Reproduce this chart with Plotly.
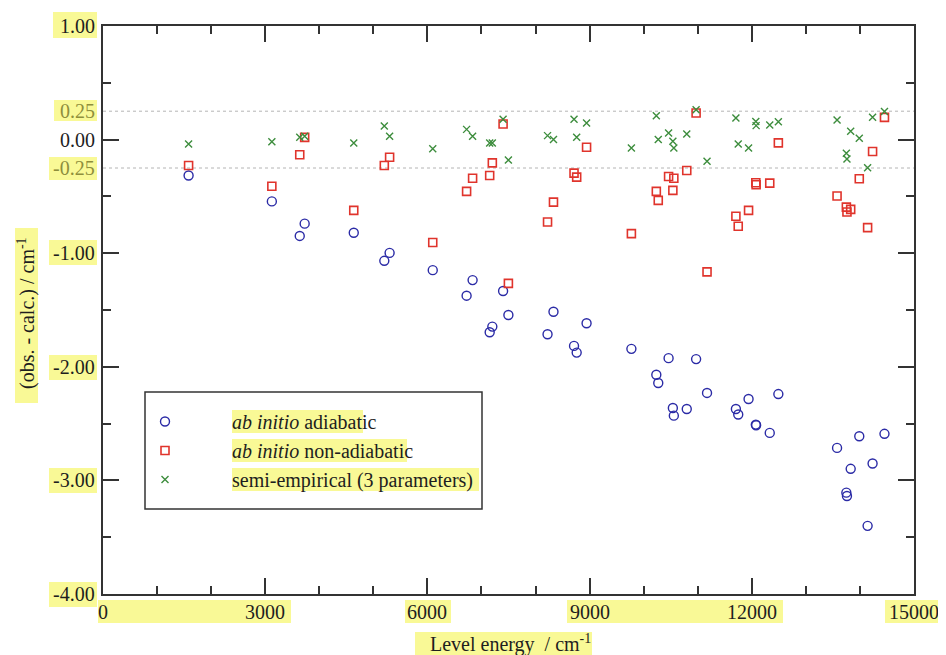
import plotly.graph_objects as go

# ---------------- data ----------------
level_energy = [1583, 3123, 3639, 3730, 4638, 5203, 5301, 6099, 6725, 6836,
                7152, 7201, 7400, 7498, 8222, 8332, 8712, 8761, 8944, 9773,
                10234, 10270, 10461, 10540, 10558, 10797, 10970, 11172, 11706, 11749,
                11940, 12074, 12080, 12332, 12491, 13577, 13749, 13760, 13829, 13988,
                14142, 14234, 14454]

ab_initio_adiabatic = [-0.316, -0.544, -0.848, -0.740, -0.820, -1.067, -0.997, -1.149, -1.374, -1.237,
                       -1.696, -1.646, -1.333, -1.544, -1.713, -1.515, -1.816, -1.875, -1.617, -1.842,
                       -2.070, -2.143, -1.924, -2.363, -2.430, -2.371, -1.932, -2.230, -2.371, -2.420,
                       -2.283, -2.509, -2.515, -2.582, -2.240, -2.714, -3.108, -3.137, -2.898, -2.611,
                       -3.400, -2.851, -2.590]

ab_initio_non_adiabatic = [-0.228, -0.410, -0.134, 0.020, -0.623, -0.228, -0.155, -0.906, -0.456, -0.340,
                           -0.316, -0.205, 0.137, -1.266, -0.725, -0.550, -0.295, -0.330, -0.067, -0.828,
                           -0.456, -0.535, -0.325, -0.447, -0.340, -0.272, 0.234, -1.164, -0.675, -0.763,
                           -0.623, -0.380, -0.397, -0.383, -0.029, -0.497, -0.594, -0.637, -0.614, -0.345,
                           -0.775, -0.105, 0.196]

semi_empirical = [-0.038, -0.018, 0.020, 0.030, -0.030, 0.120, 0.030, -0.080, 0.090, 0.030,
                  -0.030, -0.030, 0.180, -0.180, 0.035, 0.000, 0.180, 0.020, 0.146, -0.073,
                  0.210, 0.000, 0.058, -0.015, -0.073, 0.050, 0.263, -0.190, 0.190, -0.038,
                  -0.073, 0.160, 0.123, 0.129, 0.158, 0.173, -0.120, -0.170, 0.073, 0.011,
                  -0.248, 0.196, 0.248]

series_names = ["<i>ab initio</i> adiabatic",
                "<i>ab initio</i> non-adiabatic",
                "semi-empirical (3 parameters)"]

x_tick_values = [0, 3000, 6000, 9000, 12000, 15000]
x_tick_labels = ["0", "3000", "6000", "9000", "12000", "15000"]
y_tick_values = [1.0, 0.25, 0.0, -0.25, -1.0, -2.0, -3.0, -4.0]
y_tick_labels = ["1.00", "0.25", "0.00", "-0.25", "-1.00", "-2.00", "-3.00", "-4.00"]
dotted_levels = [0.25, -0.25]

# ---------------- styling ----------------
FONT = "Liberation Serif, Times New Roman, serif"
TXT = "#1e1e1e"
OLIVE = "#8e8e3c"
HL = "#f9f996"
FRAME = "#333333"

OFF = 8                      # page body margin in the browser
W, H = 946, 655              # reference window size
L, R, T, B = 103, 914, 26, 594   # plot frame in reference pixels


def px(x):
    return (x - L) / (R - L)


def py(y):
    return (B - y) / (B - T)


fig = go.Figure()

fig.add_trace(go.Scatter(
    x=level_energy, y=ab_initio_adiabatic, mode="markers", name=series_names[0],
    marker=dict(symbol="circle-open", size=9, color="#2b2ba6", line=dict(width=1.4, color="#2b2ba6"))))
fig.add_trace(go.Scatter(
    x=level_energy, y=ab_initio_non_adiabatic, mode="markers", name=series_names[1],
    marker=dict(symbol="square-open", size=8, color="#e0342c", line=dict(width=1.6, color="#e0342c"))))
fig.add_trace(go.Scatter(
    x=level_energy, y=semi_empirical, mode="markers", name=series_names[2],
    marker=dict(symbol="x-thin-open", size=7, color="#3d8d3d", line=dict(width=1.4, color="#3d8d3d"))))

ROW1, ROWSTEP = 421, 29

shapes = []
hl_boxes = [
    (53, 12, 97, 38), (54, 100, 97, 121), (49, 157, 97, 180), (49, 240, 97, 265),
    (49, 355, 97, 380), (49, 468, 97, 493), (49, 582, 97, 607),
    (98, 600, 291, 623), (405, 600, 451, 623), (567, 600, 783, 623), (885, 600, 940, 623),
    (415, 632, 592, 655), (15, 228, 38, 403),
    (232, ROW1 - 11, 363, ROW1 + 12),
    (232, ROW1 + ROWSTEP - 11, 407, ROW1 + ROWSTEP + 12),
    (232, ROW1 + 2 * ROWSTEP - 11, 479, ROW1 + 2 * ROWSTEP + 12),
]
for x0, y0, x1, y1 in hl_boxes:
    shapes.append(dict(type="rect", xref="paper", yref="paper",
                       x0=px(x0), x1=px(x1), y0=py(y1), y1=py(y0),
                       fillcolor=HL, line=dict(width=0), layer="below"))
for lv in dotted_levels:
    shapes.append(dict(type="line", xref="x", yref="y", x0=0, x1=15000, y0=lv, y1=lv,
                       line=dict(color="#b4b4b4", width=1, dash="dot"), layer="below"))
shapes.append(dict(type="rect", xref="paper", yref="paper",
                   x0=px(145), x1=px(482), y0=py(509), y1=py(392),
                   fillcolor="rgba(0,0,0,0)", line=dict(color=FRAME, width=1.5), layer="above"))

annotations = []
for v, t in zip(y_tick_values, y_tick_labels):
    col = OLIVE if abs(v) == 0.25 else TXT
    annotations.append(dict(xref="paper", yref="y", x=0, y=v, xshift=-6, xanchor="right",
                            yanchor="middle", text=t, showarrow=False,
                            font=dict(family=FONT, size=20, color=col)))
for v, t in zip(x_tick_values, x_tick_labels):
    annotations.append(dict(xref="x", yref="paper", x=v, y=0, yshift=-18, xanchor="center",
                            yanchor="middle", text=t, showarrow=False,
                            font=dict(family=FONT, size=20, color=TXT)))
annotations.append(dict(xref="paper", yref="paper", x=px(510), y=py(643), xanchor="center",
                        yanchor="middle", text="Level energy  / cm<sup>-1</sup>", showarrow=False,
                        font=dict(family=FONT, size=20, color=TXT)))
annotations.append(dict(xref="paper", yref="paper", x=px(27), y=py(313), xanchor="center",
                        yanchor="middle", textangle=-90,
                        text="(obs. - calc.) / cm<sup>-1</sup>", showarrow=False,
                        font=dict(family=FONT, size=20, color=TXT)))

axis_common = dict(showline=True, linecolor=FRAME, linewidth=2, mirror="allticks",
                   ticks="inside", tickcolor=FRAME, tickwidth=1.5,
                   showgrid=False, zeroline=False, showticklabels=False)

fig.update_layout(
    width=W - OFF, height=H - OFF, autosize=False,
    margin=dict(l=L - OFF, r=W - R, t=T - OFF, b=H - B, pad=0),
    paper_bgcolor="white", plot_bgcolor="white",
    font=dict(family=FONT, size=20, color=TXT),
    xaxis=dict(range=[0, 15000], tickmode="array", tickvals=x_tick_values, ticklen=16,
               minor=dict(dtick=1000, ticks="inside", ticklen=8, tickcolor=FRAME, tickwidth=1.5),
               **axis_common),
    yaxis=dict(range=[-4, 1], tickmode="array", tickvals=[1, 0, -1, -2, -3, -4], ticklen=16,
               minor=dict(dtick=0.5, ticks="inside", ticklen=8, tickcolor=FRAME, tickwidth=1.5),
               **axis_common),
    showlegend=True,
    legend=dict(x=px(98), y=py(ROW1 - 19), xanchor="left", yanchor="top",
                bgcolor="rgba(0,0,0,0)", borderwidth=0, itemwidth=124,
                font=dict(family=FONT, size=20, color=TXT), tracegroupgap=0),
    shapes=shapes, annotations=annotations,
)

fig.write_html("out.html")
